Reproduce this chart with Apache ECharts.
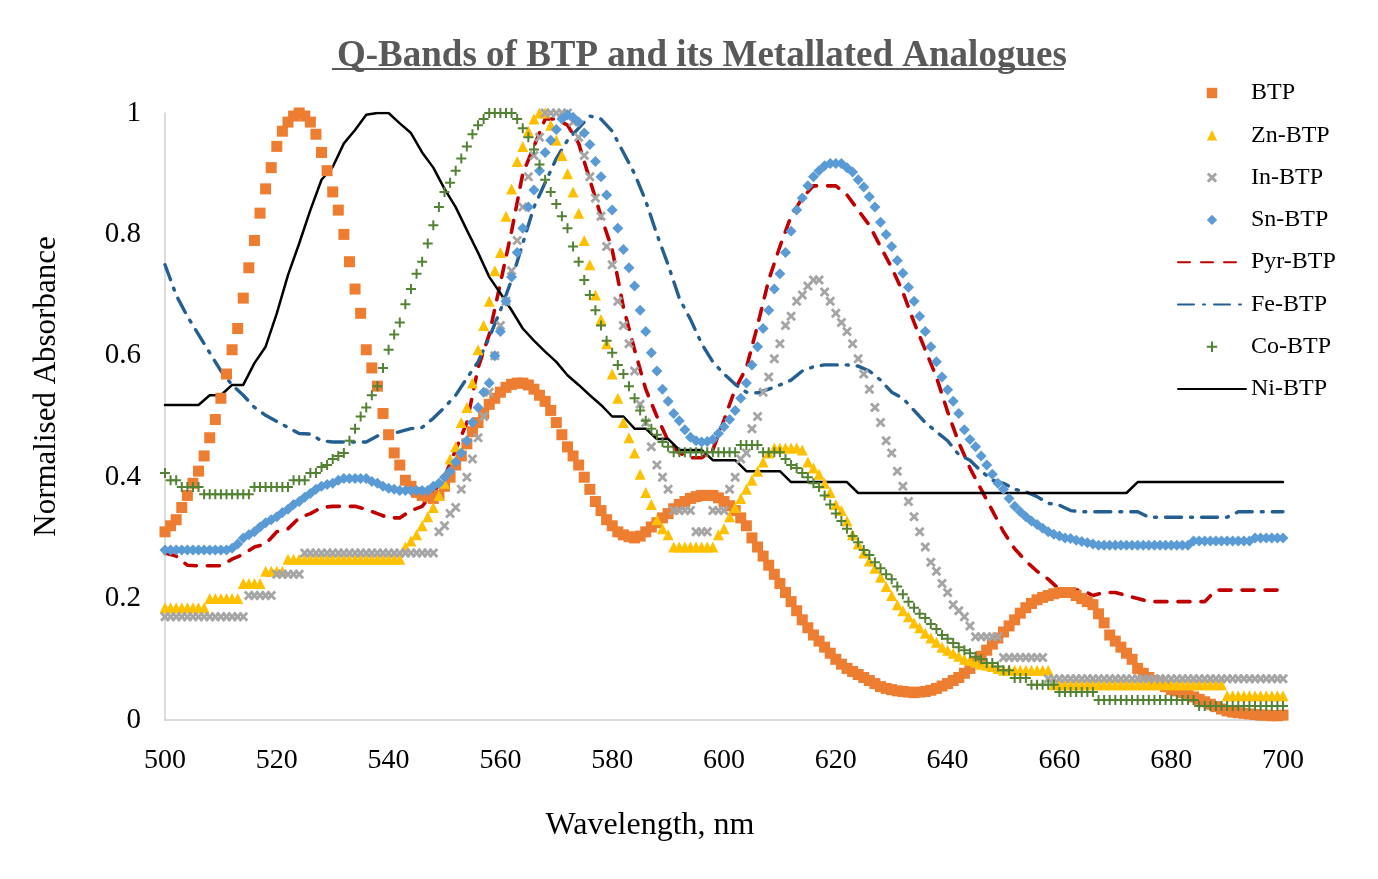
<!DOCTYPE html>
<html>
<head>
<meta charset="utf-8">
<title>Q-Bands of BTP and its Metallated Analogues</title>
<script src="https://cdn.jsdelivr.net/npm/echarts@6/dist/echarts.min.js"></script>
<style>
  html, body { margin: 0; padding: 0; background: #fff; }
  #chart { width: 1378px; height: 879px; }
</style>
</head>
<body>
<div id="chart"></div>
<script>
// wavelength grids, nm: marker series were sampled every 1 nm, line series every 2 nm
const wl1 = Array.from({ length: 201 }, (_, i) => 500 + i);
const wl2 = Array.from({ length: 101 }, (_, i) => 500 + 2 * i);

// normalised absorbance (one row per 10 nm)
const btp = [
  .31,.32,.33,.35,.37,.39,.41,.435,.465,.495,
  .53,.57,.61,.645,.695,.745,.79,.835,.875,.91,
  .945,.97,.985,.995,1,.995,.985,.965,.935,.905,
  .87,.84,.80,.755,.71,.67,.61,.58,.55,.505,
  .47,.44,.42,.395,.385,.375,.37,.368,.365,.37,
  .385,.40,.42,.435,.455,.475,.49,.505,.52,.53,
  .54,.548,.553,.555,.555,.552,.545,.535,.525,.51,
  .49,.47,.45,.435,.42,.40,.38,.36,.345,.33,
  .32,.31,.305,.302,.30,.303,.31,.318,.325,.333,
  .34,.348,.355,.36,.365,.368,.37,.37,.37,.366,
  .36,.353,.345,.333,.32,.30,.285,.27,.255,.24,
  .225,.21,.195,.18,.165,.152,.14,.13,.12,.11,
  .10,.092,.085,.08,.075,.07,.065,.06,.055,.052,
  .05,.048,.047,.046,.045,.046,.047,.049,.052,.056,
  .06,.065,.07,.077,.085,.095,.105,.115,.125,.135,
  .145,.155,.165,.176,.185,.192,.198,.202,.205,.208,
  .21,.21,.21,.205,.20,.195,.19,.175,.16,.14,
  .13,.12,.11,.10,.085,.077,.07,.065,.06,.055,
  .05,.048,.045,.042,.038,.034,.03,.026,.022,.018,
  .015,.013,.012,.011,.01,.009,.008,.008,.007,.007,
  .008];

const znBtp = [
  .185,.185,.185,.185,.185,.185,.185,.185,.20,.20,
  .20,.20,.20,.20,.225,.225,.225,.225,.245,.245,
  .245,.245,.265,.265,.265,.265,.265,.265,.265,.265,
  .265,.265,.265,.265,.265,.265,.265,.265,.265,.265,
  .265,.265,.265,.285,.295,.305,.32,.335,.35,.37,
  .39,.43,.45,.49,.515,.555,.61,.65,.69,.74,
  .77,.83,.875,.92,.945,.97,.99,1,1,.98,
  .955,.93,.90,.87,.835,.79,.75,.70,.66,.62,
  .57,.53,.49,.465,.44,.405,.375,.355,.33,.315,
  .305,.285,.285,.285,.285,.285,.285,.285,.285,.305,
  .315,.335,.35,.365,.38,.395,.41,.425,.44,.448,
  .448,.448,.448,.448,.445,.425,.415,.405,.39,.375,
  .355,.345,.328,.305,.29,.275,.262,.25,.235,.22,
  .205,.19,.18,.17,.16,.152,.143,.135,.128,.12,
  .115,.11,.105,.10,.098,.095,.092,.09,.088,.085,
  .082,.082,.082,.082,.082,.082,.082,.082,.082,.058,
  .058,.058,.058,.058,.058,.058,.058,.058,.058,.058,
  .058,.058,.058,.058,.058,.058,.058,.058,.058,.058,
  .058,.058,.058,.058,.058,.058,.058,.058,.058,.058,
  .04,.04,.04,.04,.04,.04,.04,.04,.04,.04,
  .04];

const inBtp = [
  .17,.17,.17,.17,.17,.17,.17,.17,.17,.17,
  .17,.17,.17,.17,.17,.205,.205,.205,.205,.205,
  .24,.24,.24,.24,.24,.275,.275,.275,.275,.275,
  .275,.275,.275,.275,.275,.275,.275,.275,.275,.275,
  .275,.275,.275,.275,.275,.275,.275,.275,.275,.31,
  .32,.34,.35,.38,.40,.43,.465,.50,.54,.60,
  .65,.69,.74,.79,.845,.895,.93,.96,1,1,
  1,1,1,.985,.96,.93,.895,.86,.83,.78,
  .75,.69,.65,.62,.575,.52,.49,.45,.42,.40,
  .38,.345,.345,.345,.345,.31,.31,.31,.345,.345,
  .345,.38,.40,.43,.44,.48,.50,.54,.565,.595,
  .62,.65,.665,.69,.70,.715,.725,.725,.705,.69,
  .67,.655,.64,.62,.595,.57,.545,.515,.49,.46,
  .44,.41,.385,.36,.335,.31,.285,.26,.245,.225,
  .21,.19,.18,.17,.155,.137,.137,.137,.137,.137,
  .103,.103,.103,.103,.103,.103,.103,.103,.068,.068,
  .068,.068,.068,.068,.068,.068,.068,.068,.068,.068,
  .068,.068,.068,.068,.068,.068,.068,.068,.068,.068,
  .068,.068,.068,.068,.068,.068,.068,.068,.068,.068,
  .068,.068,.068,.068,.068,.068,.068,.068,.068,.068,
  .068];

const snBtp = [
  .28,.28,.28,.28,.28,.28,.28,.28,.28,.28,
  .28,.28,.283,.29,.30,.305,.31,.318,.325,.33,
  .335,.342,.347,.355,.36,.367,.373,.38,.385,.388,
  .39,.395,.398,.398,.398,.398,.398,.393,.39,.385,
  .382,.38,.378,.378,.378,.378,.378,.378,.385,.39,
  .40,.41,.425,.44,.46,.49,.515,.54,.555,.60,
  .64,.69,.73,.77,.81,.845,.873,.905,.935,.955,
  .973,.99,.997,.993,.985,.967,.948,.92,.895,.865,
  .84,.81,.775,.745,.715,.675,.64,.605,.575,.545,
  .525,.505,.493,.478,.466,.46,.458,.459,.462,.472,
  .483,.495,.51,.53,.555,.585,.615,.645,.675,.71,
  .735,.77,.805,.84,.86,.88,.895,.905,.913,.917,
  .917,.917,.91,.903,.89,.878,.862,.845,.82,.80,
  .78,.757,.736,.713,.69,.665,.64,.615,.59,.565,
  .544,.525,.505,.478,.462,.45,.435,.42,.405,.39,
  .38,.365,.352,.343,.335,.328,.322,.316,.31,.306,
  .303,.30,.299,.296,.294,.292,.29,.288,.288,.288,
  .288,.288,.288,.288,.288,.288,.288,.288,.288,.288,
  .288,.288,.288,.288,.295,.295,.295,.295,.295,.295,
  .295,.295,.295,.295,.295,.30,.30,.30,.30,.30,
  .30];

const coBtp = [
  .407,.395,.395,.384,.384,.384,.384,.372,.372,.372,
  .372,.372,.372,.372,.372,.372,.384,.384,.384,.384,
  .384,.384,.384,.395,.395,.395,.407,.407,.417,.42,
  .43,.435,.44,.46,.48,.50,.515,.535,.55,.58,
  .61,.635,.655,.685,.71,.735,.755,.785,.815,.845,
  .87,.885,.905,.925,.945,.965,.98,.99,1,1,
  1,1,1,.99,.975,.96,.94,.915,.89,.87,
  .85,.83,.81,.78,.755,.725,.70,.675,.65,.625,
  .605,.585,.57,.55,.53,.51,.493,.48,.47,.458,
  .45,.441,.441,.441,.441,.441,.441,.441,.441,.441,
  .441,.441,.441,.453,.453,.453,.453,.441,.441,.441,
  .441,.43,.42,.415,.407,.40,.39,.384,.37,.355,
  .34,.328,.315,.303,.293,.28,.272,.26,.25,.24,
  .232,.22,.207,.195,.185,.175,.168,.158,.15,.14,
  .134,.127,.12,.115,.11,.104,.10,.094,.094,.088,
  .082,.082,.069,.069,.069,.058,.058,.058,.058,.058,
  .046,.046,.046,.046,.046,.046,.046,.033,.033,.033,
  .033,.033,.033,.033,.033,.033,.033,.033,.033,.033,
  .033,.033,.033,.033,.033,.023,.023,.023,.023,.023,
  .023,.023,.023,.023,.023,.023,.023,.023,.023,.023,
  .023];

// line series, one row per 20 nm
const pyrBtp = [
  .275,.27,.255,.254,.254,.254,.265,.273,.285,.29,
  .31,.315,.333,.34,.35,.352,.352,.352,.347,.34,
  .333,.333,.345,.352,.375,.40,.445,.49,.58,.635,
  .72,.805,.90,.945,.99,.99,.98,.95,.89,.83,
  .775,.68,.61,.545,.50,.46,.44,.432,.432,.445,
  .494,.545,.58,.65,.725,.78,.83,.86,.88,.88,
  .88,.865,.84,.815,.78,.745,.705,.655,.61,.565,
  .508,.457,.415,.38,.345,.31,.282,.262,.245,.232,
  .215,.214,.214,.205,.21,.21,.205,.20,.195,.195,
  .195,.195,.195,.195,.214,.214,.214,.214,.214,.214,
  .214];

const feBtp = [
  .75,.70,.665,.635,.605,.575,.552,.535,.515,.502,
  .492,.482,.472,.471,.46,.458,.458,.458,.458,.468,
  .47,.475,.48,.482,.497,.515,.535,.563,.59,.63,
  .675,.725,.785,.845,.885,.925,.955,.975,.995,.99,
  .97,.935,.90,.855,.80,.75,.695,.66,.62,.59,
  .57,.553,.54,.539,.545,.552,.56,.575,.582,.585,
  .585,.585,.583,.575,.56,.54,.53,.51,.49,.475,
  .46,.437,.428,.41,.395,.39,.38,.376,.368,.357,
  .354,.345,.343,.343,.343,.343,.343,.343,.334,.334,
  .334,.334,.334,.334,.334,.334,.343,.343,.343,.343,
  .343];

const niBtp = [
  .519,.519,.519,.519,.535,.535,.552,.552,.588,.615,
  .67,.733,.785,.84,.89,.911,.95,.972,.997,1,
  1,.983,.967,.935,.91,.875,.845,.807,.77,.73,
  .703,.675,.645,.625,.607,.59,.568,.552,.535,.519,
  .50,.50,.48,.48,.463,.463,.445,.445,.445,.428,
  .428,.428,.41,.41,.41,.41,.392,.392,.392,.392,
  .392,.392,.374,.374,.374,.374,.374,.374,.374,.374,
  .374,.374,.374,.374,.374,.374,.374,.374,.374,.374,
  .374,.374,.374,.374,.374,.374,.374,.392,.392,.392,
  .392,.392,.392,.392,.392,.392,.392,.392,.392,.392,
  .392];

const seriesNames = ['BTP', 'Zn-BTP', 'In-BTP', 'Sn-BTP', 'Pyr-BTP', 'Fe-BTP', 'Co-BTP', 'Ni-BTP'];
const lineSeriesNames = ['Pyr-BTP', 'Fe-BTP', 'Ni-BTP'];
const xTicks = { min: 500, max: 700, interval: 20 };
const yTicks = { min: 0, max: 1, interval: 0.2 };

const serif = '"Liberation Serif", "Times New Roman", serif';
const crossPath = 'path://M2,0 L5,3 L8,0 L10,2 L7,5 L10,8 L8,10 L5,7 L2,10 L0,8 L3,5 L0,2 Z';
const plusPath = 'path://M4,0 H6 V4 H10 V6 H6 V10 H4 V6 H0 V4 H4 Z';

function pairs(xs, ys) {
  return xs.map((x, i) => [x, ys[i]]);
}

// marker-only series: drawn as line series with an invisible line so the legend icon stays square
function markers(name, ys, symbol, size, color) {
  return {
    name: name,
    type: 'line',
    data: pairs(wl1, ys),
    symbol: symbol,
    symbolSize: size,
    showSymbol: true,
    showAllSymbol: true,
    lineStyle: { width: 0, opacity: 0 },
    itemStyle: { color: color, opacity: 1, borderWidth: 0 },
    emphasis: { disabled: true }
  };
}

function curve(name, ys, color, width, dash) {
  return {
    name: name,
    type: 'line',
    data: pairs(wl2, ys),
    symbol: 'none',
    showSymbol: false,
    lineStyle: { color: color, width: width, type: dash, cap: 'round' },
    itemStyle: { color: color },
    emphasis: { disabled: true }
  };
}

const chart = echarts.init(document.getElementById('chart'), null, { renderer: 'canvas' });

chart.setOption({
  backgroundColor: '#ffffff',
  animation: false,
  title: {
    text: 'Q-Bands of BTP and its Metallated Analogues',
    left: 332,
    top: 33,
    textStyle: { fontFamily: serif, fontWeight: 'bold', fontSize: 37, color: '#595959' }
  },
  graphic: [{
    type: 'rect',
    left: 332,
    top: 68,
    shape: { width: 732, height: 2 },
    style: { fill: '#595959' },
    silent: true
  }],
  legend: {
    data: seriesNames.map(n => lineSeriesNames.includes(n)
      ? { name: n, itemStyle: { opacity: 0 } }
      : { name: n }),
    orient: 'vertical',
    left: 1172,
    top: 76,
    itemWidth: 68,
    itemHeight: 13,
    itemGap: 18.3,
    textStyle: { fontFamily: serif, fontSize: 24, color: '#000', lineHeight: 24 },
    selectedMode: false
  },
  grid: { left: 165, right: 95, top: 113, bottom: 159 },
  xAxis: {
    type: 'value',
    min: xTicks.min, max: xTicks.max, interval: xTicks.interval,
    name: 'Wavelength, nm',
    nameLocation: 'middle',
    nameGap: 90,
    nameTextStyle: { fontFamily: serif, fontSize: 32, color: '#000', padding: [0, 148, 0, 0] },
    axisLine: { lineStyle: { color: '#d0d0d0', width: 1.5 } },
    axisTick: { show: false },
    splitLine: { show: false },
    axisLabel: { fontFamily: serif, fontSize: 28, color: '#000', margin: 27 }
  },
  yAxis: {
    type: 'value',
    min: yTicks.min, max: yTicks.max, interval: yTicks.interval,
    name: 'Normalised Absorbance',
    nameLocation: 'middle',
    nameGap: 103,
    nameTextStyle: { fontFamily: serif, fontSize: 31, color: '#000', padding: [0, 0, 0, 60] },
    axisLine: { show: true, lineStyle: { color: '#d0d0d0', width: 1.5 } },
    axisTick: { show: false },
    splitLine: { show: false },
    axisLabel: { fontFamily: serif, fontSize: 29, color: '#000', margin: 24 }
  },
  series: [
    markers('BTP', btp, 'rect', 11, '#ED7D31'),
    markers('Zn-BTP', znBtp, 'triangle', 11, '#FFC000'),
    markers('In-BTP', inBtp, crossPath, 10, '#A5A5A5'),
    markers('Sn-BTP', snBtp, 'diamond', 11, '#5B9BD5'),
    curve('Pyr-BTP', pyrBtp, '#C00000', 3.6, [12, 11]),
    curve('Fe-BTP', feBtp, '#255E91', 3.4, [16, 9, 2, 9]),
    markers('Co-BTP', coBtp, plusPath, 10, '#548235'),
    curve('Ni-BTP', niBtp, '#000000', 2.5, 'solid')
  ]
});
</script>
</body>
</html>
